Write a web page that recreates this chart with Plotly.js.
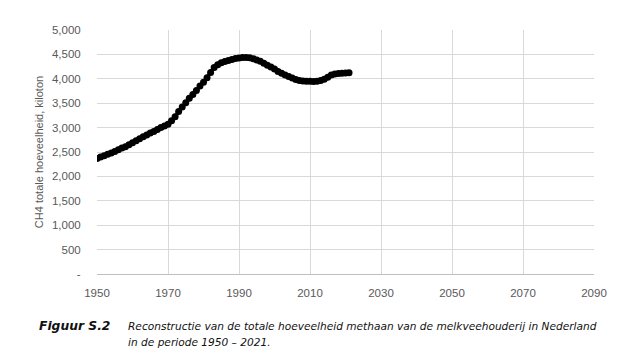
<!DOCTYPE html>
<html>
<head>
<meta charset="utf-8">
<script src="https://cdn.plot.ly/plotly-3.0.1.min.js"></script>
<style>html,body{margin:0;padding:0;background:#fff;}#chart{width:622px;height:352px;}</style>
</head>
<body>
<div id="chart"></div>
<script>
const years = [];
for (let y = 1950; y <= 2021; y++) years.push(y);
const methaan = [
2365,2395,2425,2455,2480,2510,2545,2580,2610,2650,
2690,2730,2770,2810,2850,2890,2920,2960,3000,3035,
3070,3140,3220,3330,3420,3510,3600,3680,3760,3850,
3930,4020,4130,4230,4290,4330,4355,4375,4395,4415,
4425,4435,4435,4430,4410,4385,4360,4320,4280,4240,
4200,4150,4115,4080,4045,4015,3985,3965,3955,3950,
3950,3945,3950,3965,3990,4030,4080,4100,4110,4115,
4120,4125];
const yTickVals = [0,500,1000,1500,2000,2500,3000,3500,4000,4500,5000];
const yTickText = ['-','500','1,000','1,500','2,000','2,500','3,000','3,500','4,000','4,500','5,000'];
const xTickVals = [1950,1970,1990,2010,2030,2050,2070,2090];
const yTitle = 'CH4 totale hoeveelheid, kiloton';
const captionLabel = 'Figuur S.2';
const captionLine1 = 'Reconstructie van de totale hoeveelheid methaan van de melkveehouderij in Nederland';
const captionLine2 = 'in de periode 1950 – 2021.';

const trace = {
  x: years, y: methaan, type: 'scatter', mode: 'lines+markers',
  line: {color: '#000', width: 3.5},
  marker: {color: '#000', size: 7},
  hoverinfo: 'skip'
};
const W = 497, H = 244, L = 97, T = 30;
const px2x = p => (p - L) / W;
const px2y = p => (T + H - p) / H;
const capFont = {family: 'DejaVu Sans, Verdana, sans-serif', size: 10.6, color: '#111'};
const tickFont = {family: 'Liberation Sans, Arial, sans-serif', size: 11.5, color: '#595959'};
const layout = {
  width: 622, height: 352,
  margin: {l: L, r: 622 - L - W, t: T, b: 352 - T - H},
  paper_bgcolor: '#fff', plot_bgcolor: '#fff',
  showlegend: false,
  font: {family: 'Liberation Sans, Arial, sans-serif', size: 11.5, color: '#595959'},
  xaxis: {
    range: [1950, 2090], tickvals: xTickVals, showgrid: true, gridcolor: '#d9d9d9', gridwidth: 1,
    zeroline: false, showline: true, linecolor: '#bfbfbf', linewidth: 1,
    ticks: 'outside', ticklen: 8, tickcolor: 'rgba(0,0,0,0)',
    tickfont: tickFont
  },
  yaxis: {
    range: [0, 5000], tickvals: yTickVals, ticktext: yTickText, showgrid: true, gridcolor: '#d9d9d9', gridwidth: 1,
    zeroline: false, showline: false,
    ticks: 'outside', ticklen: 13, tickcolor: 'rgba(0,0,0,0)',
    tickfont: tickFont,
    title: {text: yTitle, font: {family: 'Liberation Sans, Arial, sans-serif', size: 11, color: '#595959'}, standoff: 6}
  },
  annotations: [
    {xref: 'paper', yref: 'paper', x: px2x(37), y: px2y(326), xanchor: 'left', yanchor: 'middle', showarrow: false,
     text: '<b><i>' + captionLabel + '</i></b>', font: Object.assign({}, capFont, {size: 12.3})},
    {xref: 'paper', yref: 'paper', x: px2x(126), y: px2y(326), xanchor: 'left', yanchor: 'middle', showarrow: false,
     text: '<i>' + captionLine1 + '</i>', font: capFont},
    {xref: 'paper', yref: 'paper', x: px2x(126), y: px2y(342), xanchor: 'left', yanchor: 'middle', showarrow: false,
     text: '<i>' + captionLine2 + '</i>', font: capFont}
  ]
};
Plotly.newPlot('chart', [trace], layout, {displayModeBar: false, staticPlot: true});
</script>
</body>
</html>
